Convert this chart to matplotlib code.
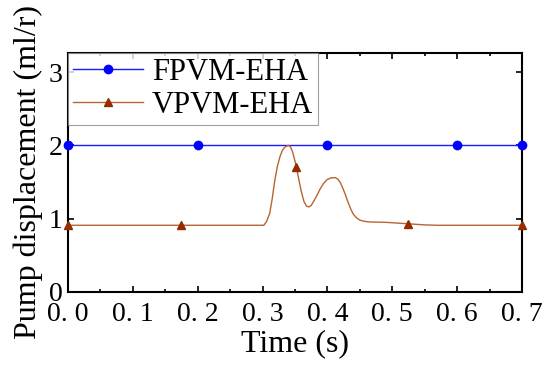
import numpy as np
import matplotlib
matplotlib.use('Agg')
import matplotlib.pyplot as plt
from matplotlib.ticker import MultipleLocator, FuncFormatter

plt.rcParams['font.family'] = ['Liberation Serif', 'DejaVu Serif']

# FPVM-EHA: constant displacement
t_fpvm = [0.0, 0.2, 0.4, 0.6, 0.7]
d_fpvm = [2.0, 2.0, 2.0, 2.0, 2.0]

# VPVM-EHA: variable displacement
t_vpvm = [0.0, 0.175, 0.302, 0.306, 0.311, 0.315, 0.319, 0.323, 0.327, 0.331,
          0.335, 0.340, 0.343, 0.346, 0.349, 0.352, 0.356, 0.360, 0.364, 0.368,
          0.371, 0.375, 0.379, 0.384, 0.389, 0.394, 0.399, 0.405, 0.412, 0.416,
          0.420, 0.424, 0.428, 0.432, 0.436, 0.440, 0.445, 0.450, 0.456, 0.465,
          0.490, 0.525, 0.550, 0.568, 0.620, 0.700]
d_vpvm = [0.91, 0.91, 0.91, 0.96, 1.07, 1.28, 1.53, 1.72, 1.85, 1.94,
          1.98, 2.00, 1.98, 1.92, 1.82, 1.71, 1.53, 1.36, 1.23, 1.17,
          1.16, 1.18, 1.24, 1.32, 1.41, 1.48, 1.53, 1.555, 1.56, 1.54,
          1.49, 1.41, 1.32, 1.22, 1.13, 1.06, 1.01, 0.98, 0.965, 0.955,
          0.95, 0.93, 0.915, 0.91, 0.91, 0.91]
mark_t = [0.0, 0.175, 0.352, 0.525, 0.7]

fig = plt.figure(figsize=(5.5, 3.79), dpi=100)
ax = fig.add_axes([0.1236, 0.2296, 0.8255, 0.6306])

ax.plot(t_fpvm, d_fpvm, color='#1a1aff', lw=1.0, marker='o', ms=6,
        mfc='#0000ff', mec='#0000ff', label='FPVM-EHA', clip_on=False, zorder=3)
idx = [t_vpvm.index(t) for t in mark_t]
ax.plot(t_vpvm, d_vpvm, color='#b5652f', lw=1.0, marker='^', ms=6,
        markevery=idx, mfc='#c01800', mec='#7a3800', label='VPVM-EHA',
        clip_on=False, zorder=3)

ax.set_xlim(0, 0.7)
ax.set_ylim(0, 3.26)
ax.xaxis.set_major_locator(MultipleLocator(0.1))
ax.xaxis.set_minor_locator(MultipleLocator(0.05))
ax.yaxis.set_major_locator(MultipleLocator(1))
ax.xaxis.set_major_formatter(FuncFormatter(lambda v, p: ('%.1f' % v).replace('.', '. ')))
ax.tick_params(which='both', direction='in', top=True, right=True, labelsize=20, width=1.2)
ax.tick_params(which='major', length=4.5)
ax.tick_params(which='minor', length=2.5)
ax.tick_params(axis='x', pad=7)
ax.tick_params(axis='y', pad=4)
for s in ax.spines.values():
    s.set_linewidth(1.5)

ax.set_xlabel('Time (s)', fontsize=23, labelpad=2)
ax.set_ylabel('Pump displacement (ml/r)', fontsize=23, labelpad=4)

leg = ax.legend(loc='upper left', fontsize=22, frameon=True, fancybox=False,
                borderaxespad=0, handlelength=2.3, handletextpad=0.3,
                labelspacing=0.15, borderpad=0.15)
leg.get_frame().set_edgecolor('#888888')
leg.get_frame().set_linewidth(0.8)

fig.savefig('out.png', dpi=100)
